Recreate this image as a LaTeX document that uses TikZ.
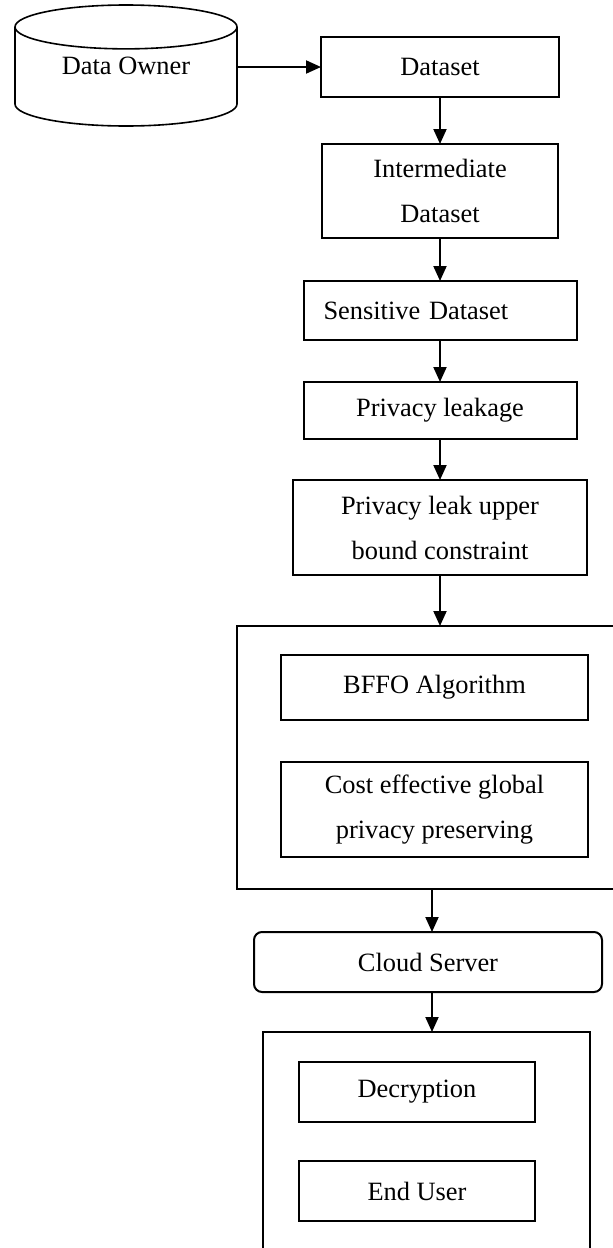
\documentclass[tikz,border=0pt]{standalone}
\usepackage{fontspec}
\setmainfont{Liberation Serif}
\usetikzlibrary{arrows.meta,positioning,shapes.geometric}

\begin{document}
\begin{tikzpicture}[x=0.5pt, y=-0.5pt,
  font=\fontsize{13.2}{22.5}\selectfont,
  box/.style={draw, line width=1pt, align=center, inner sep=2pt, outer sep=0pt},
  rbox/.style={box, rounded corners=4pt},
  frame/.style={draw, line width=1pt, outer sep=0pt},
  cyl/.style={draw, cylinder, shape border rotate=90, aspect=0.342, line width=0.8pt,
    minimum width=111pt, minimum height=60.5pt, inner sep=0pt, text depth=11.5pt},
  ar/.style={-{Triangle[length=7.5pt, width=6.5pt]}, line width=1pt}]
\clip (0,0) rectangle (613,1248);
\node[cyl, anchor=shape center] (owner) at (126,65.5) {Data Owner};
\node[box, minimum width=119pt, minimum height=30pt] (data) at (440,67) {Dataset};
\draw[ar] (owner.east |- data.west) -- (data.west);
\node[box, below=23.5pt of data, minimum width=118pt, minimum height=47pt] (inter) {Intermediate\\Dataset};
\node[box, below=21.5pt of inter, minimum height=29.5pt, text width=116.5pt, inner xsep=10pt, align=left] (sens) {Sensitive Dataset};
\node[box, below=21pt of sens, minimum width=136.5pt, minimum height=28.5pt] (leak) {Privacy leakage};
\node[box, below=20.5pt of leak, minimum width=147pt, minimum height=47.5pt] (bound) {Privacy leak upper\\bound constraint};
\draw[ar] (data) -- (inter);
\draw[ar] (inter) -- (sens);
\draw[ar] (sens) -- (leak);
\draw[ar] (leak) -- (bound);
% protection block, runs past the right edge
\node[frame, below=25.5pt of bound, minimum width=203pt, minimum height=131.5pt] (prot) {};
\draw[ar] (bound) -- (prot);
\node[box, below=14.5pt of prot.north, xshift=-2.75pt, minimum width=153.5pt, minimum height=32.5pt] (bffo) {BFFO Algorithm};
\node[box, below=21pt of bffo, minimum width=153.5pt, minimum height=47.5pt] (cost) {Cost effective global\\privacy preserving};
\node[rbox, below=21.5pt of prot, xshift=-6pt, minimum width=174pt, minimum height=30pt] (cloud) {Cloud Server};
\draw[ar] ([xshift=2pt]cloud.north |- prot.south) -- ([xshift=2pt]cloud.north);
% user block, runs past the bottom edge
\node[frame, below=20pt of cloud, xshift=-0.75pt, minimum width=163.5pt, minimum height=134pt] (user) {};
\draw[ar] ([xshift=2pt]cloud.south) -- ([xshift=2pt]cloud.south |- user.north);
\node[box, below=15pt of user.north, xshift=-4.75pt, minimum width=118pt, minimum height=30pt] (dec) {Decryption};
\node[box, below=19.5pt of dec, minimum width=118pt, minimum height=30pt] (end) {End User};
\end{tikzpicture}
\end{document}
